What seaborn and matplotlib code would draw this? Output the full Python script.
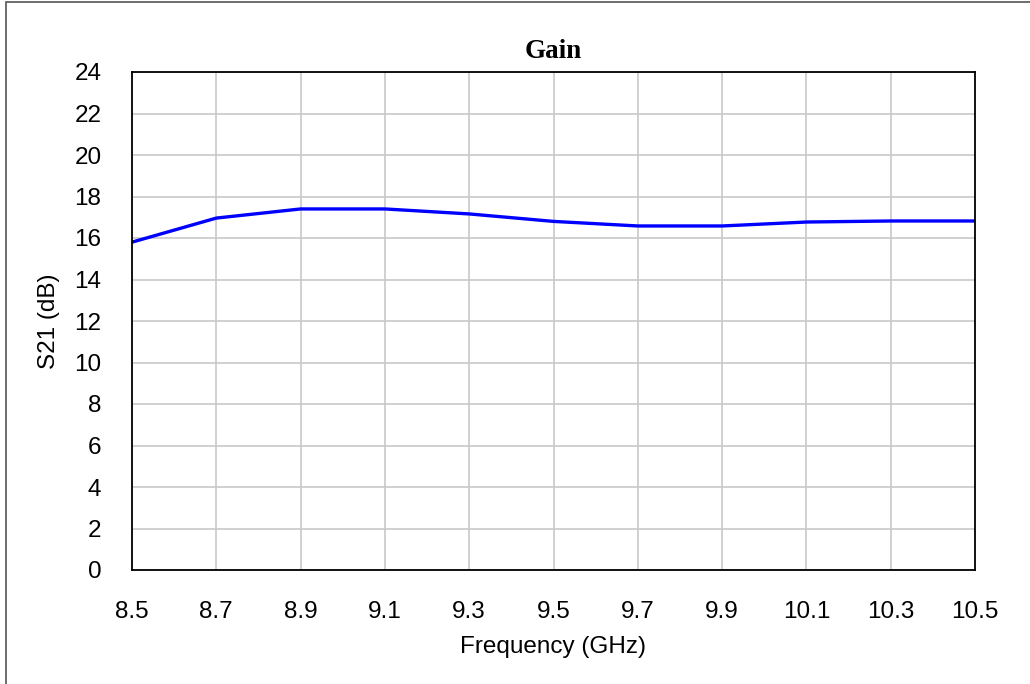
import matplotlib
matplotlib.use("Agg")
import matplotlib.pyplot as plt
import seaborn as sns
import pandas as pd
from matplotlib.patches import Rectangle

freq = [8.5, 8.7, 8.9, 9.1, 9.3, 9.5, 9.7, 9.9, 10.1, 10.3, 10.5]
s21 = [15.8, 16.96, 17.4, 17.4, 17.16, 16.8, 16.58, 16.58, 16.77, 16.82, 16.82]
xticks = [8.5, 8.7, 8.9, 9.1, 9.3, 9.5, 9.7, 9.9, 10.1, 10.3, 10.5]
yticks = list(range(0, 25, 2))

sns.set_theme(style="white")
plt.rcParams['font.family'] = ['Liberation Sans', 'DejaVu Sans']

df = pd.DataFrame({"freq": freq, "s21": s21})

fig = plt.figure(figsize=(10.30, 6.84), dpi=100)
ax = fig.add_axes([132/1030, 1-570/684, (975-132)/1030, (570-72)/684])
sns.lineplot(data=df, x="freq", y="s21", ax=ax, color="#0000ff", linewidth=2.4)

ax.set_xlim(8.5, 10.5)
ax.set_ylim(0, 24)
ax.set_xticks(xticks)
ax.set_xticklabels([f"{v:g}" for v in xticks])
ax.set_yticks(yticks)
ax.grid(True, color="#c8c8c8", linewidth=1.2)
ax.set_axisbelow(True)
ax.tick_params(axis="both", length=0, labelsize=17.5, colors="black")
ax.tick_params(axis="x", pad=22.5)
ax.tick_params(axis="y", pad=22)
for sp in ax.spines.values():
    sp.set_color("black")
    sp.set_linewidth(1.3)
ax.set_xlabel("Frequency (GHz)", fontsize=17.5, labelpad=9, color="black")
ax.set_ylabel("S21 (dB)", fontsize=17.5, labelpad=10, color="black")
ax.set_title("Gain", fontsize=19.5, fontweight="bold", family="Liberation Serif",
             pad=10, color="black")

fig.patches.append(Rectangle((6/1030, -20/684), 1100/1030, (682+20)/684,
                             transform=fig.transFigure, fill=False,
                             edgecolor="#555555", linewidth=1.2))
fig.savefig("out.png", dpi=100)
